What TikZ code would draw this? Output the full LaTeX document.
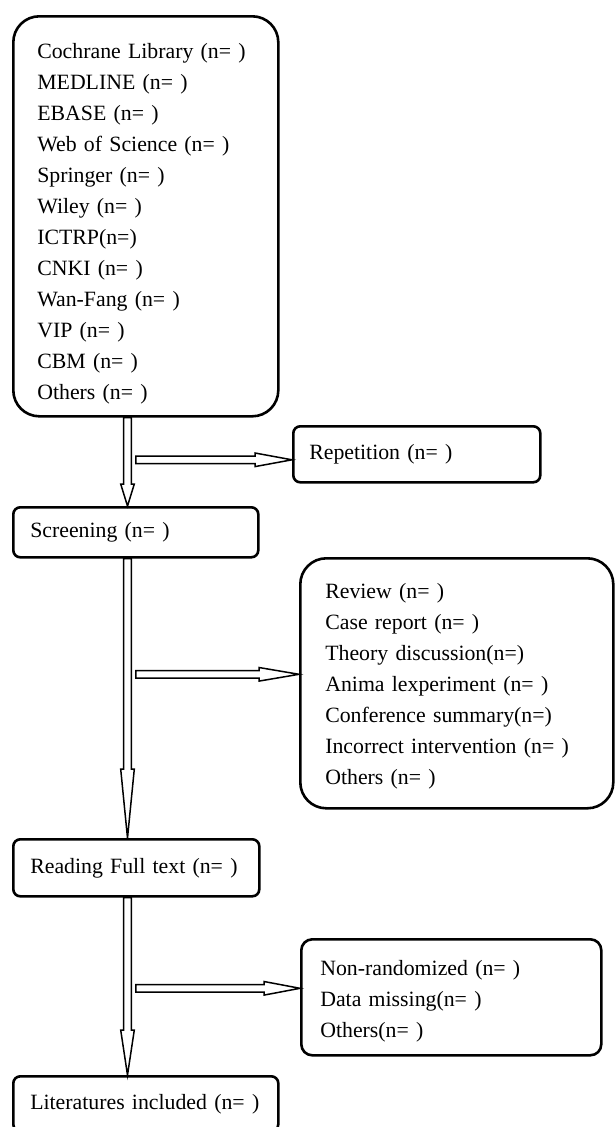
\documentclass[tikz,border=0pt]{standalone}
\usepackage{fontspec}
\setmainfont{Liberation Serif}
\usetikzlibrary{calc}

\tikzset{
  box/.style={draw, line width=2.6pt, rounded corners=7pt, inner sep=0pt,
    anchor=north west, align=left, font=\fontsize{21.8}{31}\selectfont},
  hollow/.style={draw, line width=1.5pt, line join=miter},
}

% open arrow: name, from, to, head length
\newcommand{\hollowarrow}[4]{%
  \coordinate (#1h) at ($(#3)!#4!(#2)$);
  \draw[hollow] ($(#2)!3.8pt!90:(#3)$) -- ($(#1h)!3.8pt!-90:(#2)$)
    -- ($(#1h)!6.8pt!-90:(#2)$) -- (#3)
    -- ($(#1h)!6.8pt!90:(#2)$) -- ($(#1h)!3.8pt!90:(#2)$)
    -- ($(#2)!3.8pt!-90:(#3)$) -- cycle;
}

\begin{document}
\begin{tikzpicture}[x=1pt,y=-1pt]
  \useasboundingbox (0,0) rectangle (614,1127);

  \node[box, rounded corners=26pt, text width=217pt, minimum width=265pt, minimum height=400pt] (src) at (12,15)
    {\rule{0pt}{31pt}Cochrane Library (n= )\\ MEDLINE (n= )\\ EBASE (n= )\\ Web of Science (n= )\\
     Springer (n= )\\ Wiley (n= )\\ ICTRP(n=)\\ CNKI (n= )\\ Wan-Fang (n= )\\ VIP (n= )\\
     CBM (n= )\\ Others (n= )};
  \node[box, text width=215pt, minimum width=247pt, minimum height=56pt] (rep) at (292,425) {Repetition (n= )};
  \node[box, text width=211pt, minimum width=245pt, minimum height=50pt] (scr) at (12,506) {Screening (n= )};
  \node[box, rounded corners=26pt, text width=263pt, minimum width=313pt, minimum height=250pt] (excl) at (299,557)
    {\rule{0pt}{22pt}Review (n= )\\ Case report (n= )\\ Theory discussion(n=)\\ Anima lexperiment (n= )\\
     Conference summary(n=)\\ Incorrect intervention (n= )\\ Others (n= )};
  \node[box, text width=212pt, minimum width=246pt, minimum height=57pt] (full) at (12,838) {Reading Full text (n= )};
  \node[box, rounded corners=11pt, text width=262pt, minimum width=300pt, minimum height=116pt] (miss) at (300,938)
    {\rule{0pt}{24pt}Non-randomized (n= )\\ Data missing(n= )\\ Others(n= )};
  \node[box, text width=231pt, minimum width=265pt, minimum height=55pt] (incl) at (12,1075) {Literatures included (n= )};

  \coordinate (spine) at (127.5,0);
  \coordinate (brx) at (135.8,0);
  \coordinate (b1) at ([yshift=-5.5pt]rep.west);
  \coordinate (b2) at ([yshift=9pt]excl.west);
  \coordinate (b3) at ([yshift=9pt]miss.west);

  \hollowarrow{a}{src.south -| spine}{scr.north -| spine}{22pt}
  \hollowarrow{b}{b1 -| brx}{b1}{37pt}
  \hollowarrow{c}{scr.south -| spine}{full.north -| spine}{69pt}
  \hollowarrow{d}{b2 -| brx}{b2}{40pt}
  \hollowarrow{e}{full.south -| spine}{incl.north -| spine}{45pt}
  \hollowarrow{f}{b3 -| brx}{b3}{36pt}
\end{tikzpicture}
\end{document}
